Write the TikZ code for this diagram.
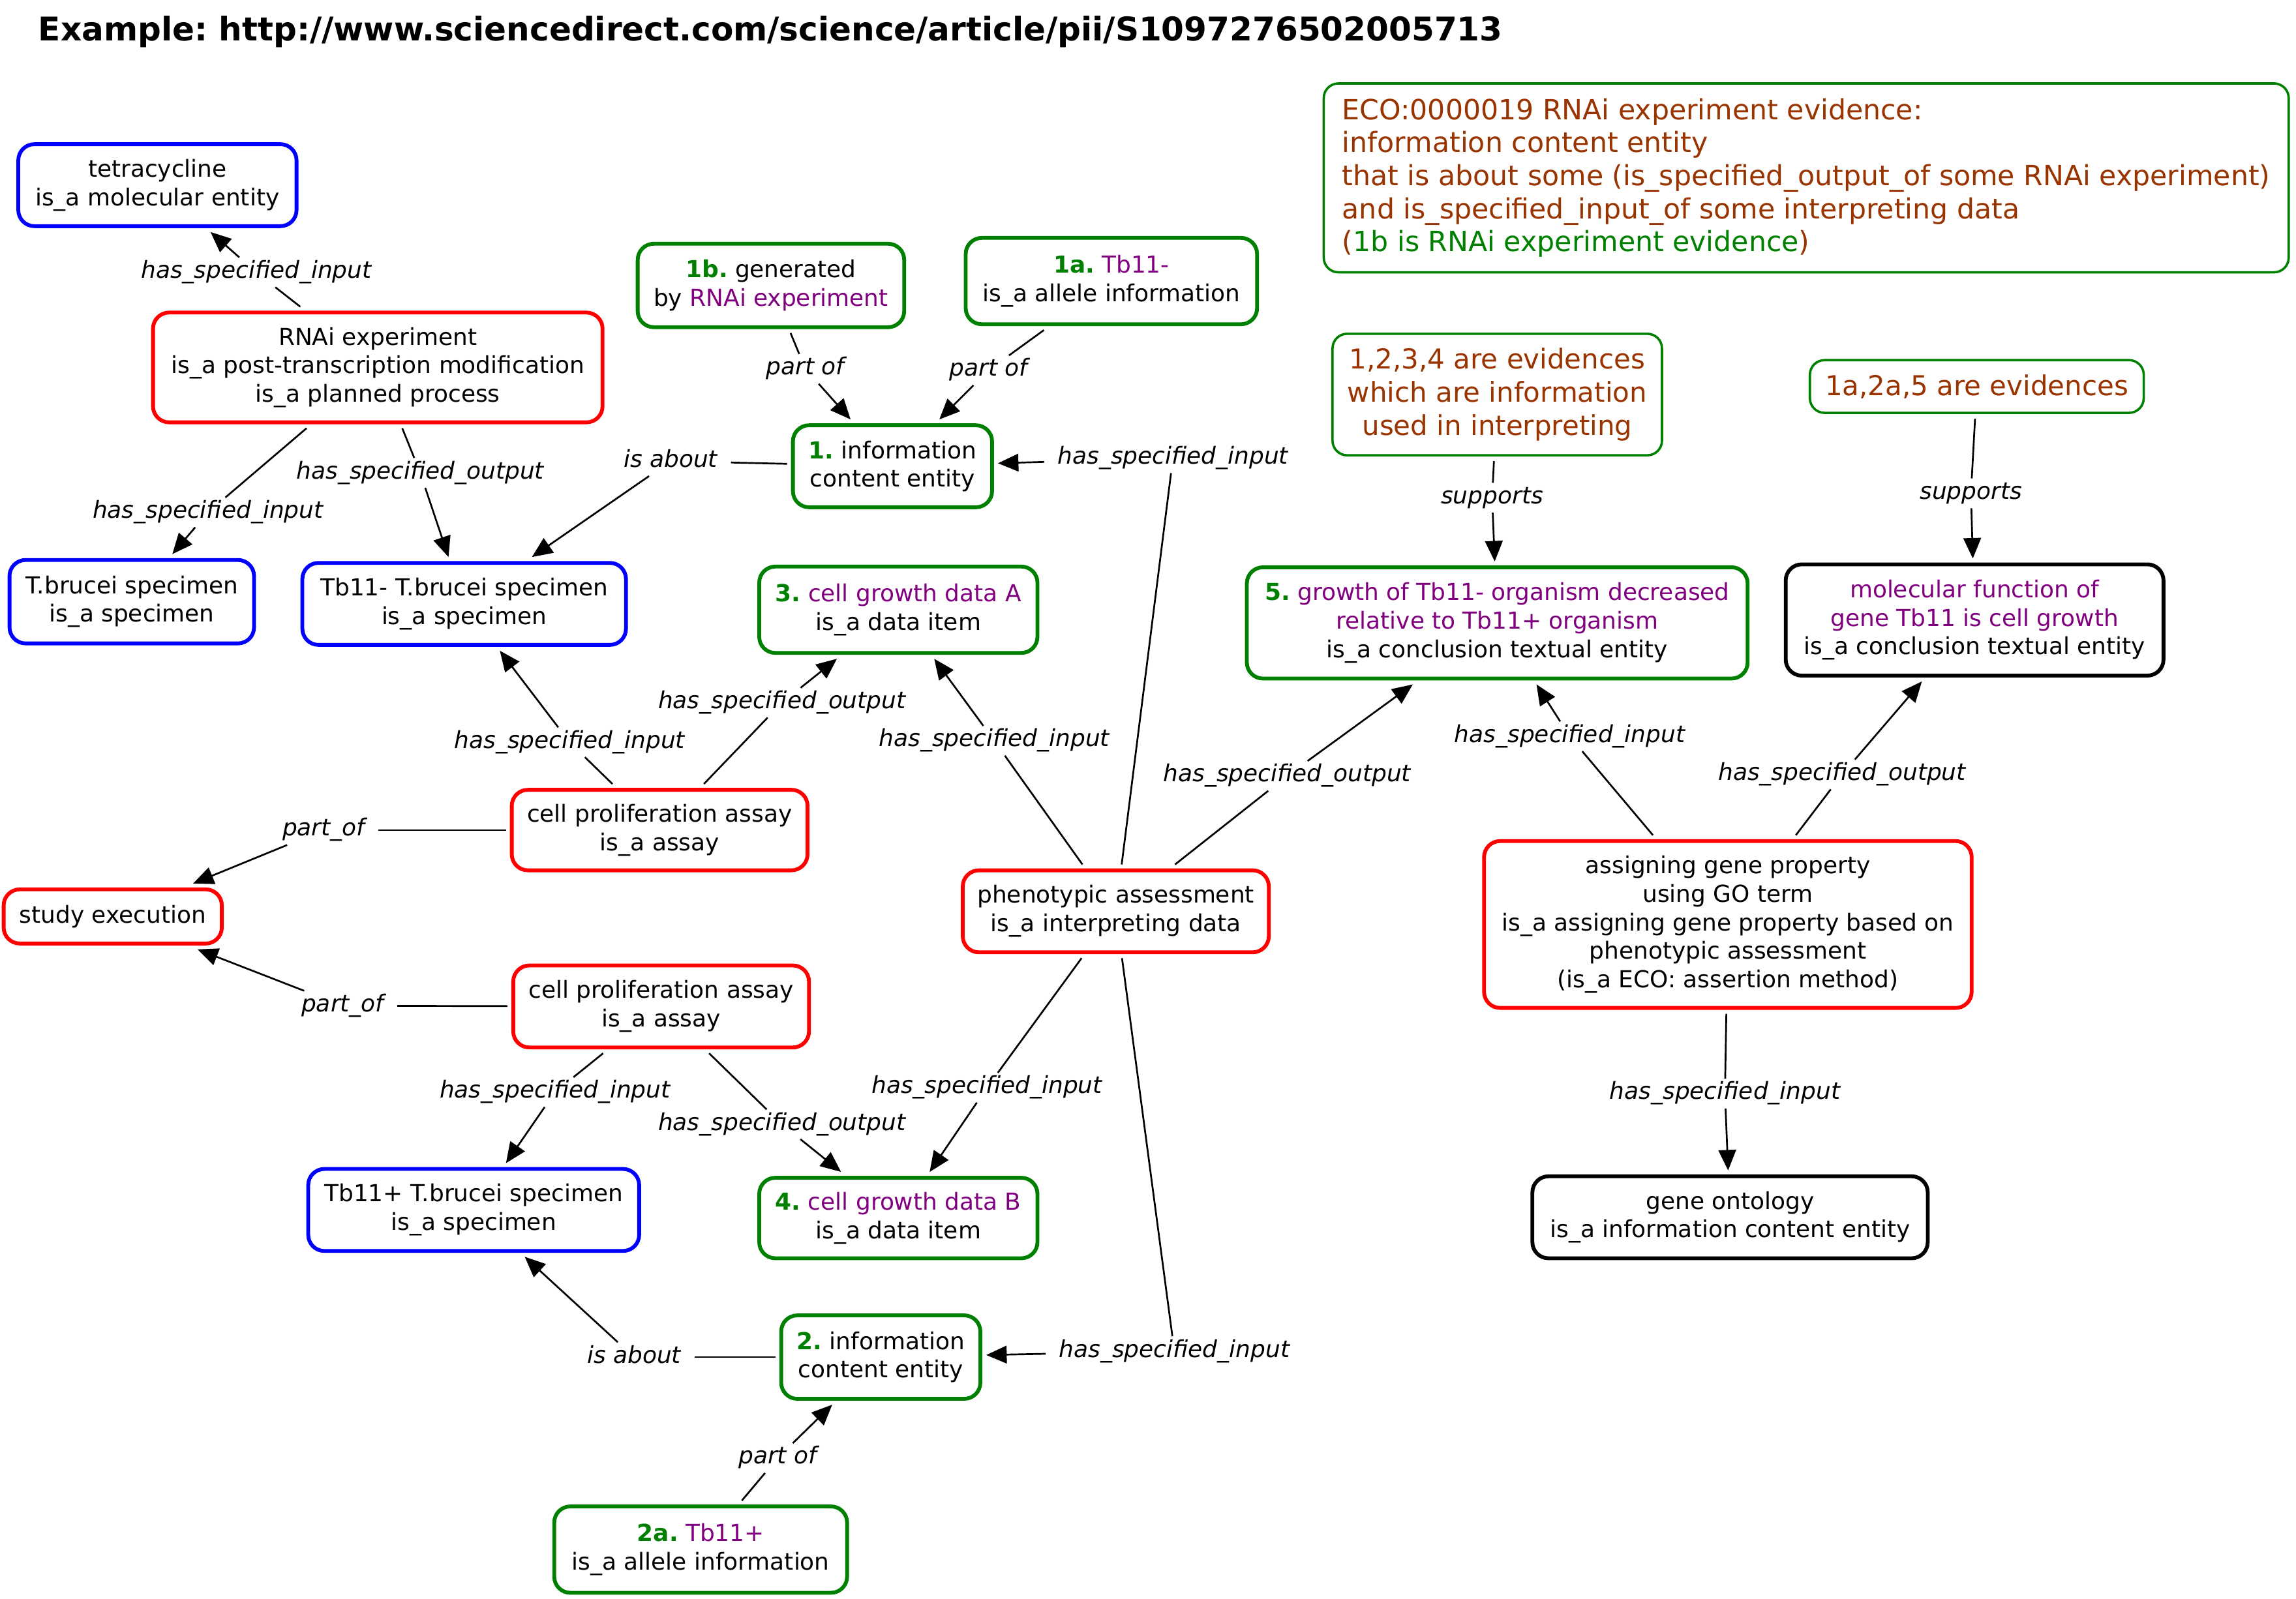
\documentclass[tikz,border=0pt]{standalone}
\usepackage{fontspec}
\setmainfont{DejaVu Sans}
\usetikzlibrary{arrows.meta}
\definecolor{grn}{RGB}{0,128,0}
\definecolor{pur}{RGB}{128,0,128}
\definecolor{brn}{RGB}{153,51,0}
\definecolor{rd}{RGB}{255,0,0}
\definecolor{bl}{RGB}{0,0,255}
\newcommand{\nf}{\fontsize{16}{19.5}\selectfont}
\newcommand{\ef}{\fontsize{18.7}{22.8}\selectfont}
\newcommand{\cf}{\fontsize{19}{22.6}\selectfont}
\newcommand{\gb}[1]{{\bfseries\color{grn}#1}}
\newcommand{\pu}[1]{{\color{pur}#1}}
\frenchspacing
\begin{document}
\begin{tikzpicture}[x=1pt,y=-1pt,
 box/.style={draw, rounded corners=11pt, line width=2.6pt, align=center, font=\nf, inner sep=0pt, outer sep=4pt},
 sz/.style 2 args={minimum width=#1pt, minimum height=#2pt},
 rbox/.style={box, draw=rd}, bbox/.style={box, draw=bl}, gbox/.style={box, draw=grn}, kbox/.style={box, draw=black},
 ebox/.style={box, draw=grn, line width=1.6pt, font=\ef, text=brn, rounded corners=10pt},
 lab/.style={font=\nf\itshape, inner xsep=9pt, inner ysep=2pt, text height=12pt, text depth=4pt},
 ln/.style={line width=1.2pt},
 ar/.style={line width=1.2pt, -{Triangle[length=14pt,width=12pt]}}
]
\useasboundingbox (0,0) rectangle (1568,1092);
\node[anchor=base west, inner sep=0pt, font=\fontsize{22.3}{26}\selectfont\bfseries] (title) at (26,28) {Example: http://www.sciencedirect.com/science/article/pii/S1097276502005713};

\node[bbox, sz={190}{56}] (tet) at (107.5,126.5) {tetracycline\\is\_a molecular entity};
\node[rbox, sz={307}{75}] (rnai) at (258,251) {RNAi experiment\\is\_a post-transcription modification\\is\_a planned process};
\node[bbox, sz={167}{57}] (tbs) at (90,411) {T.brucei specimen\\is\_a specimen};
\node[bbox, sz={221}{56}] (tbm) at (317,412.5) {Tb11- T.brucei specimen\\is\_a specimen};
\node[gbox, sz={182}{57}] (n1b) at (526.5,195) {\gb{1b.} generated\\by \pu{RNAi experiment}};
\node[gbox, sz={199}{59}] (n1a) at (759,192) {\gb{1a.} \pu{Tb11-}\\is\_a allele information};
\node[gbox, sz={136}{56}] (n1) at (609.5,318.5) {\gb{1.} information\\content entity};
\node[gbox, sz={190}{59}] (n3) at (613.5,416.5) {\gb{3.} \pu{cell growth data A}\\is\_a data item};
\node[rbox, sz={202}{55}] (cpu) at (450.5,567) {cell proliferation assay\\is\_a assay};
\node[rbox, sz={149}{37}] (se) at (77,626) {study execution};
\node[rbox, sz={202}{56}] (cpl) at (451.5,687.5) {cell proliferation assay\\is\_a assay};
\node[rbox, sz={209}{56}] (ph) at (762,622.5) {phenotypic assessment\\is\_a interpreting data};
\node[bbox, sz={226}{56}] (tbp) at (323.5,826.5) {Tb11+ T.brucei specimen\\is\_a specimen};
\node[gbox, sz={190}{55}] (n4) at (613.5,832) {\gb{4.} \pu{cell growth data B}\\is\_a data item};
\node[gbox, sz={136}{57}] (n2) at (601.5,927) {\gb{2.} information\\content entity};
\node[gbox, sz={200}{59}] (n2a) at (478.5,1058.5) {\gb{2a.} \pu{Tb11+}\\is\_a allele information};
\node[ebox, font=\cf, align=left, sz={659}{129}] (eco) at (1233.5,121.5) {ECO:0000019 RNAi experiment evidence:\\information content entity\\that is about some (is\_specified\_output\_of some RNAi experiment)\\and is\_specified\_input\_of some interpreting data\\({\color{grn}1b is RNAi experiment evidence})};
\node[ebox, sz={225}{83}] (ev1) at (1022.5,269.5) {1,2,3,4 are evidences\\which are information\\used in interpreting};
\node[ebox, sz={228}{36}] (ev2) at (1350,264) {1a,2a,5 are evidences};
\node[gbox, sz={342}{76}] (n5) at (1022.5,425.5) {\gb{5.} \pu{growth of Tb11- organism decreased}\\\pu{relative to Tb11+ organism}\\is\_a conclusion textual entity};
\node[kbox, sz={258}{76}] (mf) at (1348.5,423.5) {\pu{molecular function of}\\\pu{gene Tb11 is cell growth}\\is\_a conclusion textual entity};
\node[rbox, sz={333}{114}] (ag) at (1180,631.5) {assigning gene property\\using GO term\\is\_a assigning gene property based on\\phenotypic assessment\\(is\_a ECO: assertion method)};
\node[kbox, sz={270}{56}] (go) at (1181.5,831.5) {gene ontology\\is\_a information content entity};

\node[lab] (l1) at (175,186) {has\_specified\_input};
\node[lab] (l2) at (142,350) {has\_specified\_input};
\node[lab] (l3) at (287,323) {has\_specified\_output};
\node[lab] (l4) at (458,315) {is about};
\node[lab] (l5) at (550,252) {part of};
\node[lab] (l6) at (675,253) {part of};
\node[lab] (l7) at (801,313) {has\_specified\_input};
\node[lab] (l8) at (679,506) {has\_specified\_input};
\node[lab] (l9) at (879,530) {has\_specified\_output};
\node[lab] (l10) at (674,743) {has\_specified\_input};
\node[lab] (l11) at (802,923) {has\_specified\_input};
\node[lab] (l12) at (389,507) {has\_specified\_input};
\node[lab] (l13) at (534,480) {has\_specified\_output};
\node[lab] (l14) at (221,567) {part\_of};
\node[lab] (l15) at (234,687) {part\_of};
\node[lab] (l16) at (379,746) {has\_specified\_input};
\node[lab] (l17) at (534,768) {has\_specified\_output};
\node[lab] (l18) at (433,927) {is about};
\node[lab] (l19) at (531,996) {part of};
\node[lab] (l20) at (1072,503) {has\_specified\_input};
\node[lab] (l21) at (1258,529) {has\_specified\_output};
\node[lab] (l22) at (1178,747) {has\_specified\_input};
\node[lab] (l23) at (1019,340) {supports};
\node[lab] (l24) at (1346,337) {supports};

\draw[ln] (rnai) -- (l1); \draw[ar] (l1) -- (tet);
\draw[ln] (rnai) -- (l2); \draw[ar] (l2) -- (tbs);
\draw[ln] (rnai) -- (l3); \draw[ar] (l3) -- (tbm);
\draw[ln] (n1) -- (l4); \draw[ar] (l4) -- (tbm);
\draw[ln] (n1b) -- (l5); \draw[ar] (l5) -- (n1);
\draw[ln] (n1a) -- (l6); \draw[ar] (l6) -- (n1);
\draw[ln] (ph) -- (l7); \draw[ar] (l7) -- (n1);
\draw[ln] (ph) -- (l8); \draw[ar] (l8) -- (n3);
\draw[ln] (ph) -- (l9); \draw[ar] (l9) -- (n5);
\draw[ln] (ph) -- (l10); \draw[ar] (l10) -- (n4);
\draw[ln] (ph) -- (l11); \draw[ar] (l11) -- (n2);
\draw[ln] (cpu) -- (l12); \draw[ar] (l12) -- (tbm);
\draw[ln] (cpu) -- (l13); \draw[ar] (l13) -- (n3);
\draw[ln] (cpu) -- (l14); \draw[ar] (l14) -- (se);
\draw[ln] (cpl) -- (l15); \draw[ar] (l15) -- (se);
\draw[ln] (cpl) -- (l16); \draw[ar] (l16) -- (tbp);
\draw[ln] (cpl) -- (l17); \draw[ar] (l17) -- (n4);
\draw[ln] (n2) -- (l18); \draw[ar] (l18) -- (tbp);
\draw[ln] (n2a) -- (l19); \draw[ar] (l19) -- (n2);
\draw[ln] (ag) -- (l20); \draw[ar] (l20) -- (n5);
\draw[ln] (ag) -- (l21); \draw[ar] (l21) -- (mf);
\draw[ln] (ag) -- (l22); \draw[ar] (l22) -- (go);
\draw[ln] (ev1) -- (l23); \draw[ar] (l23) -- (n5);
\draw[ln] (ev2) -- (l24); \draw[ar] (l24) -- (mf);
\end{tikzpicture}
\end{document}
